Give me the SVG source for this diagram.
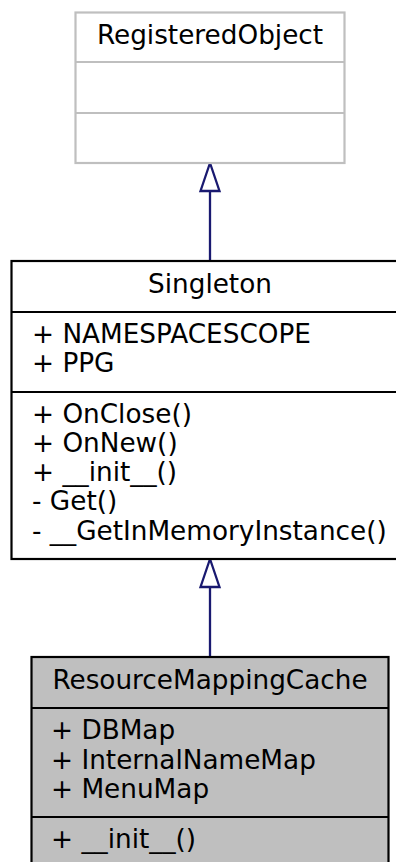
<svg xmlns="http://www.w3.org/2000/svg" width="396" height="862" viewBox="0 0 396 862">
<style>
text{font-family:"DejaVu Sans",sans-serif;font-size:26.3px;fill:#000}
.t{text-anchor:middle}
.box{stroke-width:2.2}
.grey{fill:#fff;stroke:#bfbfbf}
.blk{fill:#fff;stroke:#000}
.sel{fill:#bfbfbf;stroke:#000}
.edge{stroke:#191970;stroke-width:2.3;fill:none}
.head{stroke:#191970;stroke-width:2.3;fill:#fff}
</style>
<rect width="396" height="862" fill="#fff"/>
<g id="connectors">
<line class="edge" x1="210" y1="191" x2="210" y2="261"/>
<polygon class="head" points="210,163 200.5,191 219.5,191"/>
<line class="edge" x1="210" y1="587" x2="210" y2="657"/>
<polygon class="head" points="210,559 200.5,587 219.5,587"/>
</g>
<g id="RegisteredObject">
<rect class="box grey" x="75.5" y="12.5" width="269" height="150.5"/>
<line class="box grey" x1="75.5" y1="62" x2="344.5" y2="62"/>
<line class="box grey" x1="75.5" y1="113" x2="344.5" y2="113"/>
<text class="t" x="210" y="44">RegisteredObject</text>
</g>
<g id="Singleton">
<rect class="box blk" x="11.5" y="261" width="397" height="298"/>
<line class="box blk" x1="11.5" y1="312" x2="408.5" y2="312"/>
<line class="box blk" x1="11.5" y1="392" x2="408.5" y2="392"/>
<text class="t" x="210" y="293">Singleton</text>
<text x="32" y="343">+ NAMESPACESCOPE</text>
<text x="32" y="372">+ PPG</text>
<text x="32" y="423">+ OnClose()</text>
<text x="32" y="452">+ OnNew()</text>
<text x="32" y="481">+ __init__()</text>
<text x="32" y="510">- Get()</text>
<text x="32" y="540">- __GetInMemoryInstance()</text>
</g>
<g id="ResourceMappingCache">
<rect class="box sel" x="31.5" y="657" width="357" height="220"/>
<line class="box sel" x1="31.5" y1="708" x2="388.5" y2="708"/>
<line class="box sel" x1="31.5" y1="817" x2="388.5" y2="817"/>
<text class="t" x="210" y="689">ResourceMappingCache</text>
<text x="51" y="739">+ DBMap</text>
<text x="51" y="769">+ InternalNameMap</text>
<text x="51" y="798">+ MenuMap</text>
<text x="51" y="848">+ __init__()</text>
</g>
</svg>
